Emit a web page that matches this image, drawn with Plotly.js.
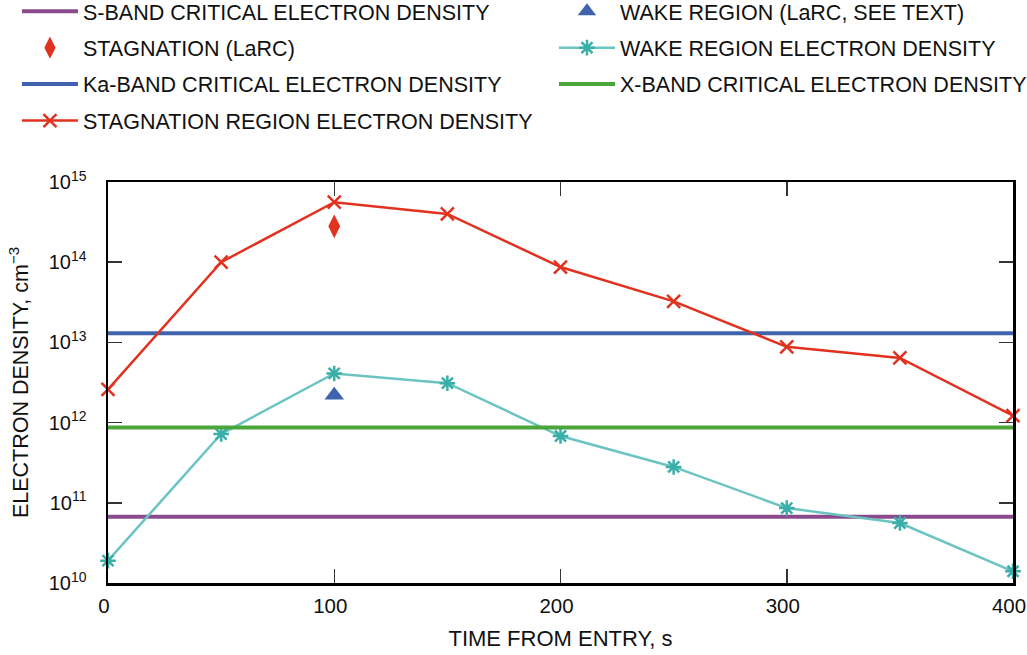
<!DOCTYPE html>
<html>
<head>
<meta charset="utf-8">
<script src="https://cdn.plot.ly/plotly-3.0.1.min.js"></script>
<style>
  html, body { margin: 0; padding: 0; background: #ffffff; }
  #chart { width: 1027px; height: 655px; }
</style>
</head>
<body>
<div id="chart"></div>
<script>
// Time from entry (s) and computed electron densities (cm^-3)
const timeS = [0, 50, 100, 150, 200, 250, 300, 350, 400];
const stagnationDensity = [2.6e12, 1.0e14, 5.6e14, 4.0e14, 8.7e13, 3.25e13, 8.8e12, 6.4e12, 1.22e12];
const wakeDensity = [1.9e10, 7.2e11, 4.1e12, 3.1e12, 6.8e11, 2.8e11, 8.6e10, 5.6e10, 1.4e10];

// LaRC comparison points
const larcTime = [100];
const larcStagnation = [2.8e14];
const larcWake = [2.2e12];

// Critical electron densities per communication band
const bandSpan = [0, 400];
const sBandCritical = 6.7e10;
const xBandCritical = 8.7e11;
const kaBandCritical = 1.3e13;

// Axis ticks
const yTickVals = [1e10, 1e11, 1e12, 1e13, 1e14, 1e15];
const yTickText = ['10<sup>10</sup>', '10<sup>11</sup>', '10<sup>12</sup>', '10<sup>13</sup>', '10<sup>14</sup>', '10<sup>15</sup>'];
const xTickVals = [0, 100, 200, 300, 400];
const xTickText = ['0', '100', '200', '300', '400'];

const RED = '#e2321f';
const CYAN_LINE = '#6cc4c2';
const CYAN_MARK = '#3aaea9';
const BLUE = '#3f64ad';
const GREEN = '#4aa63a';
const PURPLE = '#8a4b8c';

const flat = (v) => bandSpan.map(() => v);

const traces = [
  { name: 'S-BAND CRITICAL ELECTRON DENSITY', x: bandSpan, y: flat(sBandCritical),
    mode: 'lines', line: { color: PURPLE, width: 4 }, legend: 'legend', legendgroup: 'a1' },
  { name: 'STAGNATION (LaRC)', x: larcTime, y: larcStagnation, mode: 'markers',
    marker: { symbol: 'diamond-tall', size: 17, color: RED }, legend: 'legend', legendgroup: 'a2' },
  { name: 'Ka-BAND CRITICAL ELECTRON DENSITY', x: bandSpan, y: flat(kaBandCritical),
    mode: 'lines', line: { color: BLUE, width: 4 }, legend: 'legend', legendgroup: 'a3' },
  { name: 'STAGNATION REGION ELECTRON DENSITY', x: timeS, y: stagnationDensity, mode: 'lines+markers',
    line: { color: RED, width: 2.5 },
    marker: { symbol: 'x-thin-open', size: 13, color: RED, line: { color: RED, width: 2.5 } },
    legend: 'legend', legendgroup: 'a4' },
  { name: 'WAKE REGION (LaRC, SEE TEXT)', x: larcTime, y: larcWake, mode: 'markers',
    marker: { symbol: 'triangle-up', size: 17, color: BLUE }, legend: 'legend2', legendgroup: 'b1' },
  { name: 'WAKE REGION ELECTRON DENSITY', x: timeS, y: wakeDensity, mode: 'lines+markers',
    line: { color: CYAN_LINE, width: 2.5 },
    marker: { symbol: 'asterisk-open', size: 13, color: CYAN_MARK, line: { color: CYAN_MARK, width: 2.5 } },
    legend: 'legend2', legendgroup: 'b2' },
  { name: 'X-BAND CRITICAL ELECTRON DENSITY', x: bandSpan, y: flat(xBandCritical),
    mode: 'lines', line: { color: GREEN, width: 4 }, legend: 'legend2', legendgroup: 'b3' }
].map(t => Object.assign({ type: 'scatter', cliponaxis: false, hoverinfo: 'skip' }, t));

const legendFont = { family: 'Liberation Sans, Arial, sans-serif', size: 21.5, color: '#111111' };
const narrowFont = { family: 'Liberation Sans Narrow, Arial Narrow, sans-serif', size: 22, color: '#111111' };
const xTickFont = { family: 'Liberation Sans Narrow, Arial Narrow, sans-serif', size: 20.5, color: '#111111' };
const yTickFont = { family: 'Liberation Sans Narrow, Arial Narrow, sans-serif', size: 20, color: '#111111' };

const layout = {
  width: 1027,
  height: 655,
  paper_bgcolor: '#ffffff',
  plot_bgcolor: '#ffffff',
  margin: { l: 108, r: 14, t: 182, b: 72, autoexpand: false },
  showlegend: true,
  legend: {
    x: -0.1006, y: 1.477, xanchor: 'left', yanchor: 'top',
    orientation: 'v', font: legendFont, tracegroupgap: 5.5,
    itemwidth: 56, bgcolor: 'rgba(0,0,0,0)', traceorder: 'grouped'
  },
  legend2: {
    x: 0.4928, y: 1.477, xanchor: 'left', yanchor: 'top',
    orientation: 'v', font: legendFont, tracegroupgap: 5.5,
    itemwidth: 56, bgcolor: 'rgba(0,0,0,0)', traceorder: 'grouped'
  },
  xaxis: {
    range: [0, 400],
    tickvals: xTickVals, ticktext: xTickText,
    ticks: 'inside', ticklen: 14, tickwidth: 1.5, tickcolor: '#333333',
    showline: true, linecolor: '#000000', linewidth: 2.5, mirror: 'ticks',
    showgrid: false, zeroline: false,
    tickfont: xTickFont, ticklabelstandoff: 3, ticklabelshift: -4, ticklabeloverflow: 'allow',
    title: { text: 'TIME FROM ENTRY, s', font: narrowFont, standoff: 15 }
  },
  yaxis: {
    type: 'log', range: [10, 15],
    tickvals: yTickVals, ticktext: yTickText,
    ticks: 'inside', ticklen: 14, tickwidth: 1.5, tickcolor: '#333333',
    showline: true, linecolor: '#000000', linewidth: 2.5, mirror: 'ticks',
    showgrid: false, zeroline: false,
    tickfont: yTickFont, ticklabelstandoff: 15,
    title: { text: 'ELECTRON DENSITY, cm<sup>−3</sup>', font: { family: 'Liberation Sans, Arial, sans-serif', size: 21.5, color: '#111111' }, standoff: 14 }
  }
};

Plotly.newPlot('chart', traces, layout, { staticPlot: true, displayModeBar: false });
</script>
</body>
</html>
